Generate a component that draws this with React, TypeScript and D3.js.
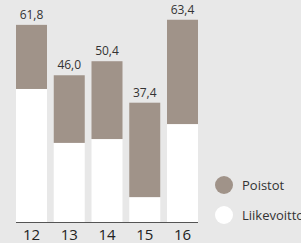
import React from "react";
import * as d3 from "d3";

const categories = ["12", "13", "14", "15", "16"];
const liikevoitto = [41.7, 24.8, 26.0, 7.8, 30.7];
const poistot = [20.1, 21.2, 24.4, 29.6, 32.7];
const totalLabels = ["61,8", "46,0", "50,4", "37,4", "63,4"];
const seriesNames = ["Poistot", "Liikevoitto"];

const W = 301;
const H = 243;
const BG = "#e8e8e8";
const TAUPE = "#a09389";
const FONT = "'Open Sans', 'DejaVu Sans', sans-serif";

export default function App() {
  const x = d3.scaleBand<string>().domain(categories).range([16, 198]).paddingInner(0.179).paddingOuter(0);
  const y = d3.scaleLinear().domain([0, 60]).range([222, 222 - 60 * 3.19]);
  const legendY = d3.scalePoint<string>().domain(seriesNames).range([185, 215]);
  const legendColor = d3.scaleOrdinal<string, string>().domain(seriesNames).range([TAUPE, "#ffffff"]);

  return (
    <svg width={W} height={H} style={{ position: "absolute", left: 0, top: 0, display: "block" }}>
      <rect x={0} y={0} width={W} height={H} fill={BG} />
      {categories.map((c, i) => {
        const x0 = x(c) as number;
        const bw = x.bandwidth();
        const lv = liikevoitto[i];
        const tot = lv + poistot[i];
        return (
          <g key={c}>
            <rect x={x0} y={y(lv)} width={bw} height={y(0) - y(lv)} fill="#ffffff" />
            <rect x={x0} y={y(tot)} width={bw} height={y(lv) - y(tot)} fill={TAUPE} />
            <text x={x0 + bw / 2} y={y(tot) - 6} textAnchor="middle" fontFamily={FONT} fontSize={12} fill="#333">
              {totalLabels[i]}
            </text>
            <text x={x0 + bw / 2} y={240} textAnchor="middle" fontFamily={FONT} fontSize={15} fill="#222">
              {c}
            </text>
          </g>
        );
      })}
      <line x1={16} x2={198} y1={222.5} y2={222.5} stroke="#555" strokeWidth={1} />
      {seriesNames.map((s) => (
        <g key={s}>
          <circle cx={224} cy={legendY(s)} r={9} fill={legendColor(s)} />
          <text x={242} y={(legendY(s) as number) + 4.5} fontFamily={FONT} fontSize={13} fill="#333">
            {s}
          </text>
        </g>
      ))}
    </svg>
  );
}
